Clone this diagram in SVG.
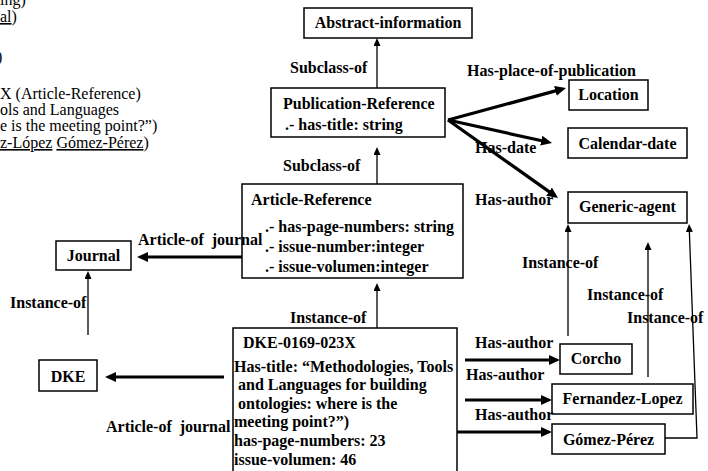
<svg xmlns="http://www.w3.org/2000/svg" width="708" height="471" viewBox="0 0 708 471">
  <style>
    text { font-family: "Liberation Serif", "Times New Roman", serif; font-size: 16px; fill: #000; white-space: pre; }
    .b { font-weight: bold; }
    .c { text-anchor: middle; }
    .box { fill: none; stroke: #000; stroke-width: 1.5; }
    .thick { fill: none; stroke: #000; stroke-width: 3.2; }
    .thin { fill: none; stroke: #000; stroke-width: 1.3; }
    .u { text-decoration: underline; }
  </style>
  <defs>
    <marker id="headBig" markerUnits="userSpaceOnUse" markerWidth="12" markerHeight="11" refX="3" refY="5" orient="auto">
      <path d="M0,0 L11,5 L0,10 z" fill="#000"/>
    </marker>
    <marker id="headSmall" markerUnits="userSpaceOnUse" markerWidth="9" markerHeight="8" refX="2" refY="3.5" orient="auto">
      <path d="M0,0 L8,3.5 L0,7 z" fill="#000"/>
    </marker>
  </defs>

  <rect width="708" height="471" fill="#fff"/>

  <!-- truncated text column at the left edge -->
  <g id="side-text">
    <text x="0" y="5">ing)</text>
    <text x="0" y="22"><tspan class="u">al</tspan>)</text>
    <text x="-3" y="62">)</text>
    <text x="0" y="99">X (Article-Reference)</text>
    <text x="0" y="115">ols and Languages</text>
    <text x="0" y="131">e is the meeting point?”)</text>
    <text x="0" y="148"><tspan class="u">z-López</tspan> <tspan class="u">Gómez-Pérez</tspan>)</text>
  </g>

  <!-- relation labels -->
  <g id="labels" class="b">
    <text class="b" x="290" y="73">Subclass-of</text>
    <text class="b" x="283" y="171">Subclass-of</text>
    <text class="b" x="467" y="76">Has-place-of-publication</text>
    <text class="b" x="475" y="153">Has-date</text>
    <text class="b" x="475" y="205">Has-author</text>
    <text class="b" x="138" y="245">Article-of  journal</text>
    <text class="b" x="10" y="308">Instance-of</text>
    <text class="b" x="290" y="323">Instance-of</text>
    <text class="b" x="106" y="432">Article-of  journal</text>
    <text class="b" x="522" y="268">Instance-of</text>
    <text class="b" x="587" y="300">Instance-of</text>
    <text class="b" x="627" y="323">Instance-of</text>
    <text class="b" x="475" y="348">Has-author</text>
    <text class="b" x="466" y="380">Has-author</text>
    <text class="b" x="475" y="420">Has-author</text>
  </g>

  <!-- connectors -->
  <g id="connectors">
    <line class="thin" x1="377" y1="88" x2="377" y2="44" marker-end="url(#headSmall)"/>
    <line class="thin" x1="377" y1="184" x2="377" y2="153" marker-end="url(#headSmall)"/>
    <line class="thin" x1="377" y1="328" x2="377" y2="289" marker-end="url(#headSmall)"/>
    <line class="thin" x1="88" y1="335" x2="88" y2="277" marker-end="url(#headSmall)"/>
    <line class="thin" x1="568" y1="336" x2="568" y2="230" marker-end="url(#headSmall)"/>
    <line class="thin" x1="648" y1="377" x2="648" y2="248" marker-end="url(#headSmall)"/>
    <polyline class="thin" points="665,438 697,438 689.3,230" marker-end="url(#headSmall)"/>

    <line class="thick" x1="448" y1="120" x2="558.3" y2="90.1" marker-end="url(#headBig)"/>
    <line class="thick" x1="448" y1="120" x2="544.2" y2="141.3" marker-end="url(#headBig)"/>
    <line class="thick" x1="448" y1="120" x2="551.5" y2="193.4" marker-end="url(#headBig)"/>
    <line class="thick" x1="242" y1="257" x2="145" y2="257" marker-end="url(#headBig)"/>
    <line class="thick" x1="224" y1="377" x2="113" y2="377" marker-end="url(#headBig)"/>
    <line class="thick" x1="465" y1="360" x2="552" y2="360" marker-end="url(#headBig)"/>
    <line class="thick" x1="465" y1="400" x2="544" y2="400" marker-end="url(#headBig)"/>
    <line class="thick" x1="457" y1="432" x2="544" y2="432" marker-end="url(#headBig)"/>
  </g>

  <!-- nodes -->
  <g id="abstract-information">
    <rect class="box" x="304" y="8" width="168" height="30"/>
    <text class="b c" x="388" y="28">Abstract-information</text>
  </g>
  <g id="publication-reference">
    <rect class="box" x="271" y="88" width="174" height="49"/>
    <text class="b" x="283" y="109">Publication-Reference</text>
    <text class="b" x="285" y="130">.- has-title: string</text>
  </g>
  <g id="location">
    <rect class="box" x="569" y="80" width="79" height="30"/>
    <text class="b c" x="608.5" y="100">Location</text>
  </g>
  <g id="calendar-date">
    <rect class="box" x="568" y="128" width="119" height="30"/>
    <text class="b c" x="627.5" y="149">Calendar-date</text>
  </g>
  <g id="generic-agent">
    <rect class="box" x="568" y="192" width="119" height="31"/>
    <text class="b c" x="627.5" y="212">Generic-agent</text>
  </g>
  <g id="article-reference">
    <rect class="box" x="242" y="184" width="221" height="94"/>
    <text class="b" x="251" y="205">Article-Reference</text>
    <text class="b" x="265" y="232">.- has-page-numbers: string</text>
    <text class="b" x="265" y="252">.- issue-number:integer</text>
    <text class="b" x="265" y="272">.- issue-volumen:integer</text>
  </g>
  <g id="journal">
    <rect class="box" x="56" y="241" width="75" height="29"/>
    <text class="b c" x="93.5" y="261">Journal</text>
  </g>
  <g id="dke">
    <rect class="box" x="39" y="360" width="58" height="31"/>
    <text class="b c" x="68" y="382">DKE</text>
  </g>
  <g id="dke-0169-023x">
    <rect class="box" x="233" y="328" width="224" height="160"/>
    <text class="b" x="243" y="348">DKE-0169-023X</text>
    <text class="b" x="234" y="372">Has-title: “Methodologies, Tools</text>
    <text class="b" x="234" y="390"> and Languages for building</text>
    <text class="b" x="234" y="409"> ontologies: where is the</text>
    <text class="b" x="234" y="427">meeting point?”)</text>
    <text class="b" x="234" y="446">has-page-numbers: 23</text>
    <text class="b" x="234" y="465">issue-volumen: 46</text>
  </g>
  <g id="corcho">
    <rect class="box" x="560" y="344" width="72" height="30"/>
    <text class="b c" x="596" y="364">Corcho</text>
  </g>
  <g id="fernandez-lopez">
    <rect class="box" x="552" y="384" width="141" height="30"/>
    <text class="b c" x="622.5" y="404">Fernandez-Lopez</text>
  </g>
  <g id="gomez-perez">
    <rect class="box" x="552" y="424" width="113" height="30"/>
    <text class="b c" x="608.5" y="445">Gómez-Pérez</text>
  </g>
</svg>
